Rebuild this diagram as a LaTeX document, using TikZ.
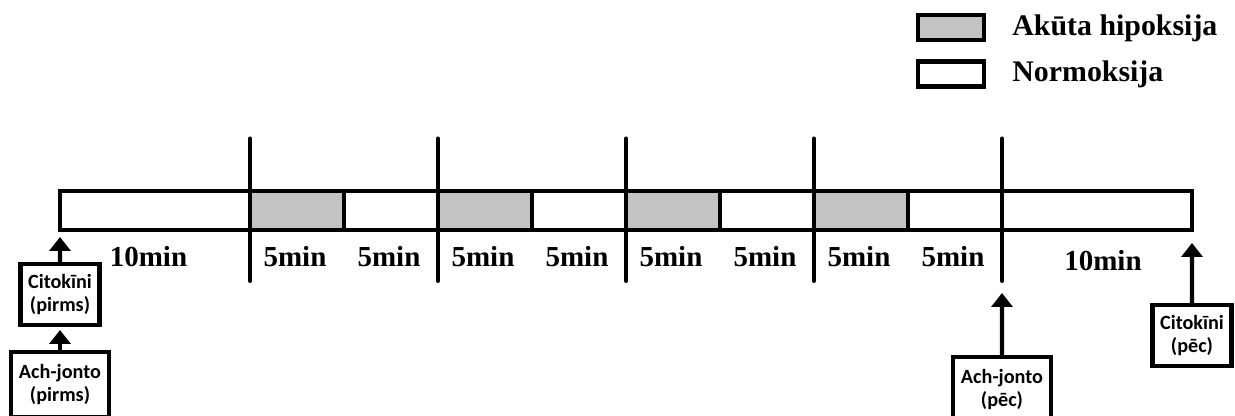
\documentclass[tikz,border=0pt]{standalone}
\usepackage{fontspec}
\setmainfont{Liberation Serif}
\newfontfamily\boxfont{Carlito}
\usetikzlibrary{arrows.meta,positioning}
\definecolor{hypogray}{RGB}{195,195,195}

\tikzset{
  seg/.style={draw, line width=2.5pt, inner sep=0pt, outer sep=0pt, minimum height=0.78cm},
  hyp/.style={seg, fill=hypogray, minimum width=1.88cm},
  norm/.style={seg, fill=white, minimum width=1.88cm},
  mins/.style={font=\bfseries\fontsize{16.5}{18}\selectfont},
  divider/.style={line width=2.3pt, line cap=round},
  sample/.style={draw, line width=2.5pt, inner sep=0pt, outer sep=0pt, minimum width=1.32cm, minimum height=0.5cm},
  legtext/.style={anchor=base west, inner sep=0pt, font=\bfseries\fontsize{17}{20}\selectfont},
  probe/.style={draw, line width=2.3pt, outer sep=0pt, inner sep=0pt, align=center,
    font=\boxfont\bfseries\fontsize{11.5}{13.5}\selectfont},
  up/.style={-{Triangle[width=0.42cm,length=0.28cm]}, line width=2.3pt},
}

\begin{document}
\begin{tikzpicture}
  \path[use as bounding box, clip] (0,0) rectangle (24.7,8.32);

  % legend
  \node[sample, fill=hypogray] (legA) at (19.02,7.77) {};
  \node[sample, fill=white] (legN) at (19.02,6.84) {};
  \node[legtext] (legAt) at (20.24,7.6) {Akūta hipoksija};
  \node[legtext] (legNt) at (20.24,6.68) {Normoksija};

  % time bar
  \node[seg, minimum width=3.8cm] (s0) at (3.1,4.11) {};
  \node[hyp] (s1) [right=0pt of s0] {};
  \node[norm] (s2) [right=0pt of s1] {};
  \node[hyp] (s3) [right=0pt of s2] {};
  \node[norm] (s4) [right=0pt of s3] {};
  \node[hyp] (s5) [right=0pt of s4] {};
  \node[norm] (s6) [right=0pt of s5] {};
  \node[hyp] (s7) [right=0pt of s6] {};
  \node[norm] (s8) [right=0pt of s7] {};
  \node[seg, minimum width=3.8cm] (s9) [right=0pt of s8] {};

  % durations
  \node[mins] (l0) at ([xshift=-0.13cm,yshift=-0.54cm]s0.south) {10min};
  \foreach \i in {1,...,8}
    \node[mins] (l\i) at ([xshift=-0.04cm,yshift=-0.54cm]s\i.south) {5min};
  \node[mins] (l9) at ([xshift=0.12cm,yshift=-0.62cm]s9.south) {10min};

  % long ticks between cycles
  \foreach \i in {0,2,4,6,8} {
    \coordinate (dt\i) at ([yshift=1.44cm]s\i.east);
    \coordinate (db\i) at ([yshift=-1.41cm]s\i.east);
    \draw[divider] (dt\i) -- (db\i);
  }

  % sampling points
  \node[probe, minimum width=1.58cm, minimum height=1.22cm] (cit1) at (1.2,2.43) {Citokīni\\(pirms)};
  \node[probe, minimum width=1.96cm, minimum height=1.3cm] (ach1) [below=0.54cm of cit1] {Ach-jonto\\(pirms)};
  \node[probe, minimum width=1.96cm, minimum height=1.3cm] (ach2) at (20.04,0.53) {Ach-jonto\\(pēc)};
  \node[probe, minimum width=1.58cm, minimum height=1.22cm] (cit2) at (23.84,1.61) {Citokīni\\(pēc)};

  \draw[up, shorten >=0.1cm] (ach1.north) -- (cit1.south);
  \draw[up, shorten >=0.14cm] (cit1.north) -- (s0.south west);
  \draw[up, shorten >=0.24cm] (ach2.north) -- (db8);
  \draw[up, shorten >=0.26cm] (cit2.north) -- (s9.south east);
\end{tikzpicture}
\end{document}
